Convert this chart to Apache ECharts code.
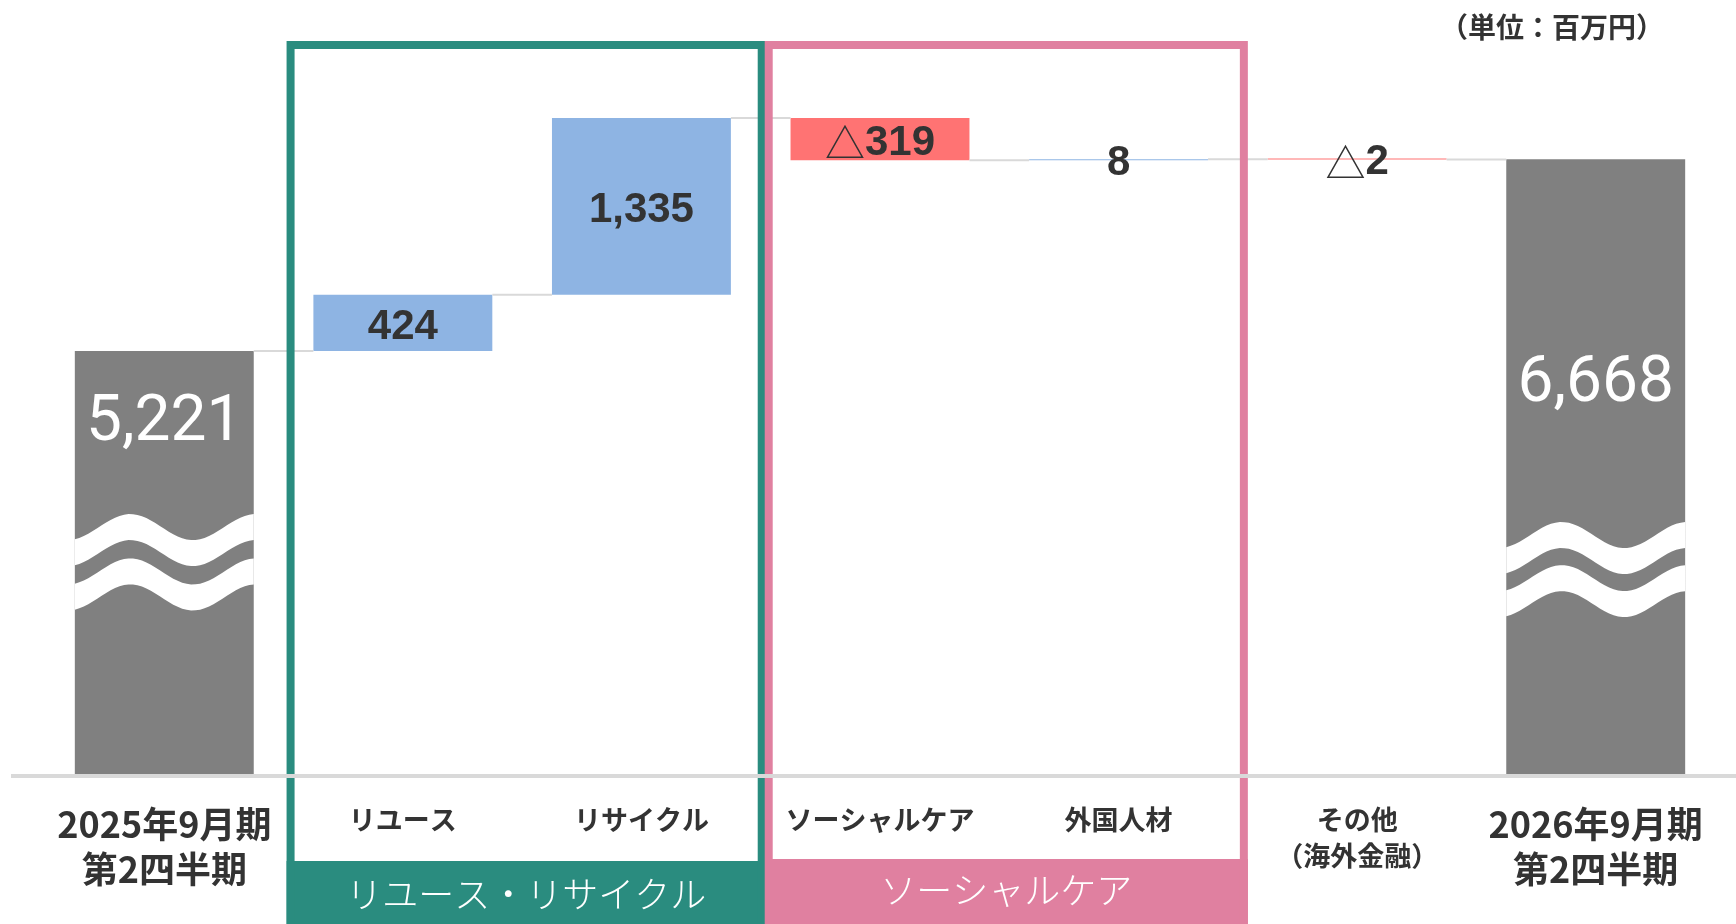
<!DOCTYPE html>
<html>
<head>
<meta charset="utf-8">
<script src="https://cdn.jsdelivr.net/npm/echarts@6/dist/echarts.min.js"></script>
<style>
    html, body { margin: 0; padding: 0; background: #fff; }
    #main { width: 1736px; height: 924px; }
</style>
</head>
<body>
<div id="main"></div>
<script>
    // 増減要因（百万円）
    var categories = ['2025年9月期\n第2四半期', 'リユース', 'リサイクル', 'ソーシャルケア', '外国人材', 'その他\n（海外金融）', '2026年9月期\n第2四半期'];
    var startValue = 5221;
    var endValue = 6668;
    var changes = [424, 1335, -319, 8, -2];
    var groupNames = ['リユース・リサイクル', 'ソーシャルケア'];
    var unitText = '（単位：百万円）';
    // 省略の波線 [カテゴリ番号, 上の波, 下の波]
    var breakMarks = [[0, 3795, 3460], [6, 3735, 3410]];

    var numFont = "'Liberation Sans', Arial, sans-serif";
    var bigNumFont = "Roboto, 'Liberation Sans', sans-serif";
    var jpFont = "'Noto Sans CJK JP', sans-serif";

    function fmt(v) {
        return String(v).replace(/\B(?=(\d{3})+(?!\d))/g, ',');
    }

    // 積み上げ用の透明なベースと増減分
    var baseData = [0];
    var deltaData = [];
    var levels = [startValue];
    var total = startValue;

    var totalLabel = function (offset) {
        return {
            show: true,
            position: ['50%', offset],
            align: 'center',
            verticalAlign: 'middle',
            color: '#fff',
            fontSize: 64,
            fontFamily: bigNumFont,
            formatter: function (p) { return fmt(p.value); }
        };
    };

    deltaData.push({ value: startValue, itemStyle: { color: '#808080' }, label: totalLabel(73) });

    changes.forEach(function (v) {
        if (v >= 0) {
            baseData.push(total);
            total += v;
        } else {
            total += v;
            baseData.push(total);
        }
        levels.push(total);
        deltaData.push({
            value: Math.abs(v),
            itemStyle: { color: v >= 0 ? '#8eb4e3' : '#ff7373' },
            label: {
                show: true,
                position: 'inside',
                offset: [0, 4],
                formatter: v >= 0 ? '{n|' + fmt(v) + '}' : '{t|△}{n|' + fmt(-v) + '}',
                rich: {
                    t: { fontFamily: jpFont, fontSize: 40, fontWeight: 'normal', color: '#333' },
                    n: { fontFamily: numFont, fontSize: 42, fontWeight: 'bold', color: '#333' }
                }
            }
        });
    });

    baseData.push(0);
    deltaData.push({ value: endValue, itemStyle: { color: '#808080' }, label: totalLabel(226) });

    var connectorData = [];
    for (var i = 0; i < levels.length; i++) {
        connectorData.push([i, levels[i]]);
    }

    var myChart = echarts.init(document.getElementById('main'));

    myChart.setOption({
        animation: false,
        textStyle: { fontFamily: jpFont },
        grid: {
            left: 45,
            right: 21,
            top: 49,
            bottom: 150
        },
        xAxis: {
            type: 'category',
            data: categories,
            axisLine: { show: false },
            axisTick: { show: false },
            axisLabel: {
                interval: 0,
                margin: 28,
                verticalAlign: 'top',
                formatter: function (v, idx) {
                    var s = (idx === 0 || idx === categories.length - 1) ? 'big' : 'small';
                    return v.split('\n').map(function (line) {
                        return '{' + s + '|' + line + '}';
                    }).join('\n');
                },
                rich: {
                    big: { fontFamily: jpFont, fontSize: 36, fontWeight: 'bold', lineHeight: 45, color: '#333' },
                    small: { fontFamily: jpFont, fontSize: 27, fontWeight: 'bold', lineHeight: 36, color: '#333' }
                }
            }
        },
        yAxis: {
            type: 'value',
            min: 2030,
            max: 7500,
            show: false,
            splitLine: { show: false }
        },
        series: [
            {
                name: 'base',
                type: 'bar',
                stack: 'w',
                barWidth: '75%',
                itemStyle: { color: 'transparent' },
                data: baseData,
                silent: true
            },
            {
                name: 'delta',
                type: 'bar',
                stack: 'w',
                barWidth: '75%',
                barMinHeight: 1,
                data: deltaData
            },
            {
                // 棒と棒をつなぐ線
                name: 'connector',
                type: 'custom',
                data: connectorData,
                z: 3,
                renderItem: function (params, api) {
                    var idx = api.value(0);
                    var p1 = api.coord([idx, api.value(1)]);
                    var p2 = api.coord([idx + 1, api.value(1)]);
                    var half = api.size([1, 0])[0] * 0.375;
                    return {
                        type: 'line',
                        shape: { x1: p1[0] + half, y1: p1[1], x2: p2[0] - half, y2: p2[1] },
                        style: { stroke: '#d9d9d9', lineWidth: 2 }
                    };
                }
            },
            {
                // 省略の波線
                name: 'break',
                type: 'custom',
                data: breakMarks,
                z: 5,
                renderItem: function (params, api) {
                    var idx = api.value(0);
                    var w = api.size([1, 0])[0] * 0.75;
                    var x0 = api.coord([idx, 0])[0] - w / 2;
                    var children = [];
                    [api.value(1), api.value(2)].forEach(function (v) {
                        var c = api.coord([idx, v])[1];
                        var top = [], bot = [];
                        for (var k = 0; k <= 40; k++) {
                            var t = k / 40;
                            var y = c - 13 * Math.cos(2 * Math.PI * (t - 0.31) / 0.7);
                            top.push([x0 + t * w, y - 13]);
                            bot.unshift([x0 + t * w, y + 13]);
                        }
                        children.push({
                            type: 'polygon',
                            shape: { points: top.concat(bot) },
                            style: { fill: '#fff' }
                        });
                    });
                    return { type: 'group', children: children };
                }
            }
        ]
    });

    // 枠・帯・軸線は描画後の座標から配置
    var cx = function (idx) { return myChart.convertToPixel({ gridIndex: 0 }, [idx, 2030])[0]; };
    var y0 = myChart.convertToPixel({ gridIndex: 0 }, [0, 2030])[1];
    var band = cx(1) - cx(0);
    var edge = function (idx) { return cx(idx) - band / 2; };

    var gL = edge(1) + 7, gR = edge(3) + 1;
    var pL = edge(3) + 8, pR = edge(5) + 6;

    myChart.setOption({
        graphic: [
            {
                type: 'rect', z: 100,
                shape: { x: gL - 4, y: y0 + 87, width: gR - gL + 8, height: 100 },
                style: { fill: '#2a8c7f' }
            },
            {
                type: 'rect', z: 100,
                shape: { x: pL - 4, y: y0 + 85, width: pR - pL + 8, height: 100 },
                style: { fill: '#e080a0' }
            },
            {
                type: 'rect', z: 101,
                shape: { x: gL, y: 45, width: gR - gL, height: 950 },
                style: { fill: null, stroke: '#2a8c7f', lineWidth: 8 }
            },
            {
                type: 'rect', z: 101,
                shape: { x: pL, y: 45, width: pR - pL, height: 950 },
                style: { fill: null, stroke: '#e080a0', lineWidth: 8 }
            },
            {
                type: 'line', z: 110,
                shape: { x1: 11, y1: y0 + 2, x2: 1736, y2: y0 + 2 },
                style: { stroke: '#d9d9d9', lineWidth: 4 }
            },
            {
                type: 'text', z: 120,
                x: (gL + gR) / 2, y: y0 + 120,
                style: {
                    text: groupNames[0], fill: '#fff', font: '300 36px ' + jpFont,
                    textAlign: 'center', textVerticalAlign: 'middle'
                }
            },
            {
                type: 'text', z: 120,
                x: (pL + pR) / 2, y: y0 + 116,
                style: {
                    text: groupNames[1], fill: '#fff', font: '300 36px ' + jpFont,
                    textAlign: 'center', textVerticalAlign: 'middle'
                }
            },
            {
                type: 'text', z: 120,
                x: 1552, y: 27,
                style: {
                    text: unitText, fill: '#333', font: 'bold 28px ' + jpFont,
                    textAlign: 'center', textVerticalAlign: 'middle'
                }
            }
        ]
    });
</script>
</body>
</html>
